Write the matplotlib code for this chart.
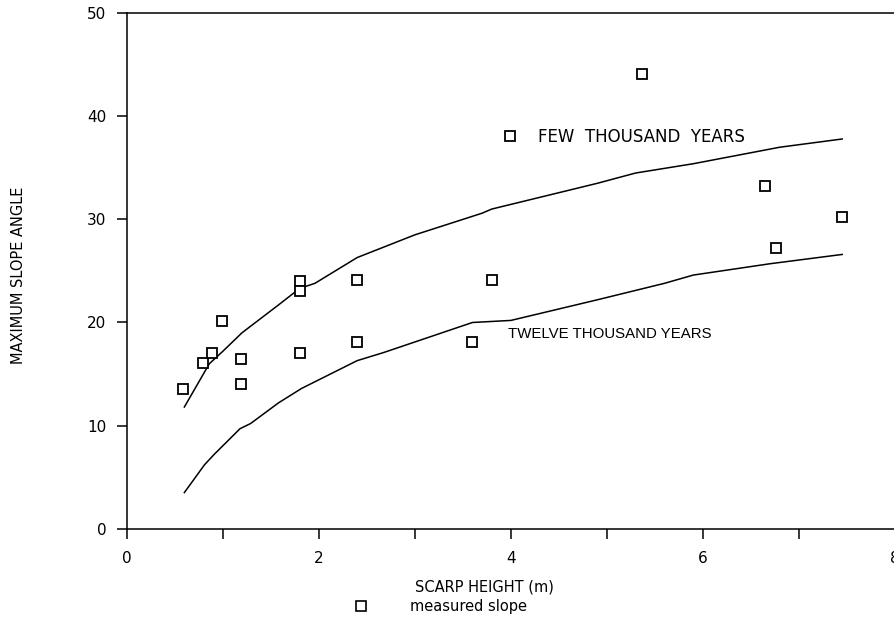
import matplotlib
matplotlib.use("Agg")
import matplotlib.pyplot as plt
from matplotlib.ticker import FixedLocator, NullFormatter

plt.rcParams["font.family"] = ["DejaVu Sans"]

# measured maximum slope angles
scarp_height = [0.59, 0.79, 0.89, 0.99, 1.19, 1.19, 1.80, 1.80, 1.80,
                2.40, 2.40, 3.60, 3.80, 3.99, 5.37, 6.65, 6.76, 7.45]
slope_angle = [13.5, 16.1, 17.0, 20.1, 16.5, 14.0, 24.0, 23.1, 17.0,
               24.1, 18.1, 18.1, 24.1, 38.1, 44.1, 33.2, 27.2, 30.2]

# model curves
few_x = [0.6, 0.86, 1.0, 1.2, 1.58, 1.8, 1.96, 2.4, 3.0, 3.7, 3.8,
         4.9, 5.3, 5.9, 6.8, 7.45]
few_y = [11.8, 16.0, 17.2, 19.0, 21.7, 23.3, 23.8, 26.3, 28.5, 30.6, 31.0,
         33.5, 34.5, 35.4, 37.0, 37.8]
twelve_x = [0.6, 0.81, 0.91, 1.18, 1.29, 1.58, 1.82, 2.4, 2.68, 3.6, 4.0,
            4.9, 5.6, 5.9, 6.7, 7.45]
twelve_y = [3.5, 6.2, 7.2, 9.7, 10.2, 12.2, 13.6, 16.3, 17.1, 20.0, 20.2,
            22.2, 23.8, 24.6, 25.7, 26.6]

fig = plt.figure(figsize=(8.95, 6.2), dpi=100)
ax = fig.add_axes([0.1416, 0.1473, 1.0 - 0.1416, 0.9787 - 0.1473])

ax.plot(few_x, few_y, color="black", lw=1.1)
ax.plot(twelve_x, twelve_y, color="black", lw=1.1)
ax.plot(scarp_height, slope_angle, ls="none", marker="s", ms=7,
        mfc="white", mec="black", mew=1.3, clip_on=False)

ax.text(4.28, 38.0, "FEW  THOUSAND  YEARS", fontsize=12, va="center",
        ha="left")
ax.text(3.97, 18.9, "TWELVE THOUSAND YEARS", fontsize=10.8, va="center",
        ha="left", family=["Liberation Sans Narrow", "Liberation Sans", "DejaVu Sans"])

ax.set_xlim(0, 8)
ax.set_ylim(0, 50)
ax.xaxis.set_major_locator(FixedLocator([0, 2, 4, 6, 8]))
ax.xaxis.set_minor_locator(FixedLocator([1, 3, 5, 7]))
ax.xaxis.set_minor_formatter(NullFormatter())
ax.set_yticks([0, 10, 20, 30, 40, 50])
ax.tick_params(axis="x", which="both", direction="out", length=7, width=1.1,
               pad=9, labelsize=11)
ax.tick_params(axis="y", direction="out", length=7.5, width=1.1, pad=7,
               labelsize=11)

for side in ["left", "bottom", "top"]:
    ax.spines[side].set_linewidth(1.1)
ax.spines["right"].set_bounds(42, 50)
ax.spines["right"].set_linewidth(1.0)

fig.text(19 / 895, 1 - 275 / 620, "MAXIMUM SLOPE ANGLE", rotation=90,
         ha="center", va="center", fontsize=10.5)
fig.text(484 / 895, 1 - 587 / 620, "SCARP HEIGHT (m)", ha="center",
         va="center", fontsize=10.5)
fig.lines.append(plt.Line2D([361 / 895], [1 - 606 / 620], ls="none",
                            marker="s", ms=6.5, mfc="white", mec="black",
                            mew=1.2, transform=fig.transFigure))
fig.text(410 / 895, 1 - 606 / 620, "measured slope", ha="left", va="center",
         fontsize=10.5)

fig.savefig("out.png", dpi=100)
